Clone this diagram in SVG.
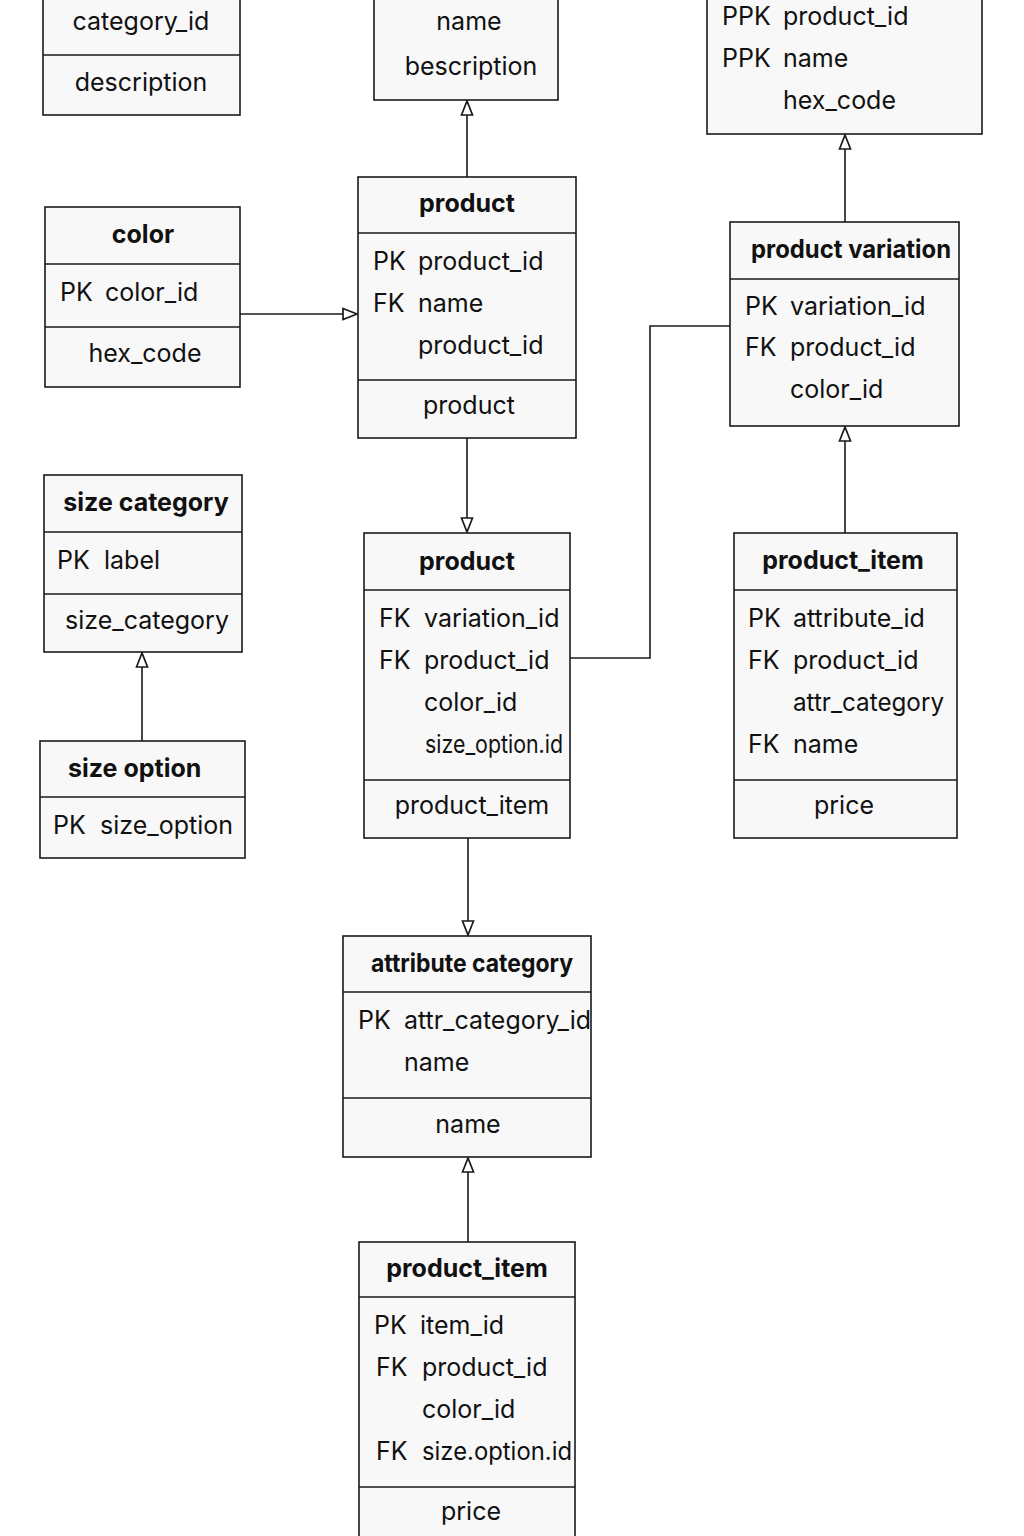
<svg xmlns="http://www.w3.org/2000/svg" width="1024" height="1536" viewBox="0 0 1024 1536">
  <defs>
    <style>
      .box { fill: #f8f8f8; stroke: #1a1a1a; stroke-width: 1.6; }
      .div { stroke: #1a1a1a; stroke-width: 1.4; }
      .t { font-family: Inter, "Liberation Sans", sans-serif; font-size: 25px; fill: #111; }
      .h { font-family: Inter, "Liberation Sans", sans-serif; font-size: 25px; font-weight: 700; fill: #111; }
      .c { text-anchor: middle; }
      .edge { fill: none; stroke: #1a1a1a; stroke-width: 1.6; }
    </style>
    <marker id="tri" viewBox="0 0 16 14" refX="15" refY="7" markerWidth="16" markerHeight="14" markerUnits="userSpaceOnUse" orient="auto">
      <path d="M1,1.5 L15,7 L1,12.5 Z" fill="#fff" stroke="#1a1a1a" stroke-width="1.7"/>
    </marker>
  </defs>

  <!-- category -->
  <g id="category">
    <rect class="box" x="43" y="-10" width="197" height="125"/>
    <line class="div" x1="43" y1="55" x2="240" y2="55"/>
    <text class="t c" x="141" y="30">category_id</text>
    <text class="t c" x="141" y="91">description</text>
  </g>

  <!-- product category -->
  <g id="product_category">
    <rect class="box" x="374" y="-10" width="184" height="110"/>
    <text class="t c" x="469" y="30">name</text>
    <text class="t c" x="471" y="75">bescription</text>
  </g>

  <!-- product color -->
  <g id="product_color">
    <rect class="box" x="707" y="-10" width="275" height="144"/>
    <text class="t" x="722" y="25">PPK</text>
    <text class="t" x="783" y="25">product_id</text>
    <text class="t" x="722" y="67">PPK</text>
    <text class="t" x="783" y="67">name</text>
    <text class="t" x="783" y="109">hex_code</text>
  </g>

  <!-- color -->
  <g id="color">
    <rect class="box" x="45" y="207" width="195" height="180"/>
    <line class="div" x1="45" y1="264" x2="240" y2="264"/>
    <line class="div" x1="45" y1="327" x2="240" y2="327"/>
    <text class="h c" x="143" y="243">color</text>
    <text class="t" x="60" y="301">PK</text>
    <text class="t" x="105" y="301">color_id</text>
    <text class="t c" x="145" y="362">hex_code</text>
  </g>

  <!-- product -->
  <g id="product">
    <rect class="box" x="358" y="177" width="218" height="261"/>
    <line class="div" x1="358" y1="233" x2="576" y2="233"/>
    <line class="div" x1="358" y1="380" x2="576" y2="380"/>
    <text class="h c" x="467" y="212">product</text>
    <text class="t" x="373" y="270">PK</text>
    <text class="t" x="418" y="270">product_id</text>
    <text class="t" x="373" y="312">FK</text>
    <text class="t" x="418" y="312">name</text>
    <text class="t" x="418" y="354">product_id</text>
    <text class="t c" x="469" y="414">product</text>
  </g>

  <!-- product variation -->
  <g id="product_variation">
    <rect class="box" x="730" y="222" width="229" height="204"/>
    <line class="div" x1="730" y1="279" x2="959" y2="279"/>
    <text class="h" x="751" y="258" textLength="200" lengthAdjust="spacingAndGlyphs">product variation</text>
    <text class="t" x="745" y="315">PK</text>
    <text class="t" x="790" y="315">variation_id</text>
    <text class="t" x="745" y="356">FK</text>
    <text class="t" x="790" y="356">product_id</text>
    <text class="t" x="790" y="398">color_id</text>
  </g>

  <!-- size category -->
  <g id="size_category">
    <rect class="box" x="44" y="475" width="198" height="177"/>
    <line class="div" x1="44" y1="532" x2="242" y2="532"/>
    <line class="div" x1="44" y1="594" x2="242" y2="594"/>
    <text class="h c" x="146" y="511">size category</text>
    <text class="t" x="57" y="569">PK</text>
    <text class="t" x="104" y="569">label</text>
    <text class="t c" x="147" y="629">size_category</text>
  </g>

  <!-- size option -->
  <g id="size_option">
    <rect class="box" x="40" y="741" width="205" height="117"/>
    <line class="div" x1="40" y1="797" x2="245" y2="797"/>
    <text class="h" x="68" y="777">size option</text>
    <text class="t" x="53" y="834">PK</text>
    <text class="t" x="100" y="834">size_option</text>
  </g>

  <!-- product (item link) -->
  <g id="product_link">
    <rect class="box" x="364" y="533" width="206" height="305"/>
    <line class="div" x1="364" y1="590" x2="570" y2="590"/>
    <line class="div" x1="364" y1="780" x2="570" y2="780"/>
    <text class="h c" x="467" y="570">product</text>
    <text class="t" x="379" y="627">FK</text>
    <text class="t" x="424" y="627">variation_id</text>
    <text class="t" x="379" y="669">FK</text>
    <text class="t" x="424" y="669">product_id</text>
    <text class="t" x="424" y="711">color_id</text>
    <text class="t" x="425" y="753" textLength="138" lengthAdjust="spacingAndGlyphs">size_option.id</text>
    <text class="t c" x="472" y="814">product_item</text>
  </g>

  <!-- product_item (attributes) -->
  <g id="product_item_attr">
    <rect class="box" x="734" y="533" width="223" height="305"/>
    <line class="div" x1="734" y1="590" x2="957" y2="590"/>
    <line class="div" x1="734" y1="780" x2="957" y2="780"/>
    <text class="h c" x="843" y="569">product_item</text>
    <text class="t" x="748" y="627">PK</text>
    <text class="t" x="793" y="627">attribute_id</text>
    <text class="t" x="748" y="669">FK</text>
    <text class="t" x="793" y="669">product_id</text>
    <text class="t" x="793" y="711" textLength="151" lengthAdjust="spacingAndGlyphs">attr_category</text>
    <text class="t" x="748" y="753">FK</text>
    <text class="t" x="793" y="753">name</text>
    <text class="t c" x="844" y="814">price</text>
  </g>

  <!-- attribute category -->
  <g id="attribute_category">
    <rect class="box" x="343" y="936" width="248" height="221"/>
    <line class="div" x1="343" y1="992" x2="591" y2="992"/>
    <line class="div" x1="343" y1="1098" x2="591" y2="1098"/>
    <text class="h" x="371" y="972" textLength="202" lengthAdjust="spacingAndGlyphs">attribute category</text>
    <text class="t" x="358" y="1029">PK</text>
    <text class="t" x="404" y="1029" textLength="187" lengthAdjust="spacingAndGlyphs">attr_category_id</text>
    <text class="t" x="404" y="1071">name</text>
    <text class="t c" x="468" y="1133">name</text>
  </g>

  <!-- product_item (bottom) -->
  <g id="product_item">
    <rect class="box" x="359" y="1242" width="216" height="310"/>
    <line class="div" x1="359" y1="1297" x2="575" y2="1297"/>
    <line class="div" x1="359" y1="1487" x2="575" y2="1487"/>
    <text class="h c" x="467" y="1277">product_item</text>
    <text class="t" x="374" y="1334">PK</text>
    <text class="t" x="420" y="1334">item_id</text>
    <text class="t" x="376" y="1376">FK</text>
    <text class="t" x="422" y="1376">product_id</text>
    <text class="t" x="422" y="1418">color_id</text>
    <text class="t" x="376" y="1460">FK</text>
    <text class="t" x="422" y="1460" textLength="150" lengthAdjust="spacingAndGlyphs">size.option.id</text>
    <text class="t c" x="471" y="1520">price</text>
  </g>

  <!-- connectors -->
  <g id="connectors">
    <line class="edge" x1="467" y1="177" x2="467" y2="101" marker-end="url(#tri)"/>
    <line class="edge" x1="845" y1="222" x2="845" y2="135" marker-end="url(#tri)"/>
    <line class="edge" x1="240" y1="314" x2="357" y2="314" marker-end="url(#tri)"/>
    <line class="edge" x1="467" y1="438" x2="467" y2="532" marker-end="url(#tri)"/>
    <polyline class="edge" points="570,658 650,658 650,326 730,326"/>
    <line class="edge" x1="142" y1="741" x2="142" y2="653" marker-end="url(#tri)"/>
    <line class="edge" x1="845" y1="533" x2="845" y2="427" marker-end="url(#tri)"/>
    <line class="edge" x1="468" y1="838" x2="468" y2="935" marker-end="url(#tri)"/>
    <line class="edge" x1="468" y1="1242" x2="468" y2="1158" marker-end="url(#tri)"/>
  </g>
</svg>
